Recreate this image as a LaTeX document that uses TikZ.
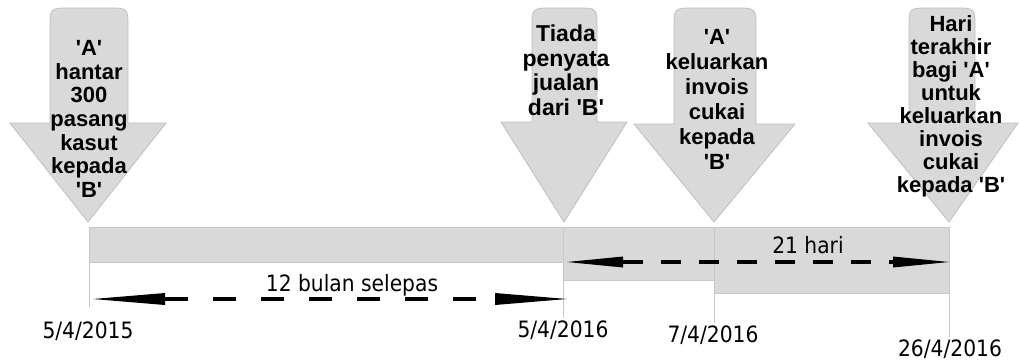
\documentclass[tikz,border=0pt]{standalone}
\usepackage{fontspec}
\usetikzlibrary{arrows.meta}
\newfontfamily\labfont{Liberation Sans}
\newfontfamily\tahfont{DejaVu Sans}[FakeStretch=0.9]
\definecolor{shapefill}{HTML}{D9D9D9}
\definecolor{shapeline}{HTML}{BFBFBF}
\definecolor{barline}{HTML}{C8C8C8}
\tikzset{
  bigarrow/.style={fill=shapefill, draw=shapeline, line width=0.8pt, line join=miter},
  lab/.style={align=center, inner sep=0pt, anchor=north, font=\labfont\bfseries\fontsize{22}{24}\selectfont},
  datelab/.style={inner sep=0pt, anchor=base, font=\tahfont\fontsize{22.5}{27}\selectfont},
  bar/.style={fill=shapefill, draw=barline, line width=1pt},
  tick/.style={draw=barline, line width=1pt},
  dimline/.style={line width=3.5pt, dash pattern=on 23pt off 25pt, {Triangle[length=72pt,width=12pt,line width=0pt 0]}-{Triangle[length=72pt,width=12pt,line width=0pt 0]}},
  dimlineb/.style={line width=3.5pt, dash pattern=on 20pt off 18pt, {Triangle[length=56pt,width=11pt,line width=0pt 0]}-{Triangle[length=56pt,width=11pt,line width=0pt 0]}}
}
\newcommand{\downarrowshape}[6]{% xl xr hl hr tipx neck
  \draw[bigarrow] (#1,#6) -- (#1,28) .. controls (#1,8) .. (#1+20,8) -- (#2-20,8) .. controls (#2,8) .. (#2,28) -- (#2,#6) -- (#4,#6) -- (#5,222) -- (#3,#6) -- cycle;}
\begin{document}
\begin{tikzpicture}[x=1pt,y=-1pt]
\useasboundingbox (0,0) rectangle (1019,360);
% big down arrows
\downarrowshape{50}{128}{10}{166}{88}{123}
\downarrowshape{532}{597}{501}{627}{564}{122}
\downarrowshape{674}{756}{634}{795}{714}{124}
\downarrowshape{909}{975}{868}{1018}{949}{123}
% bars
\draw[bar] (89,227) rectangle (563,262);
\draw[bar] (563,227) rectangle (714,280);
\draw[bar] (714,227) rectangle (949,293);
% ticks
\coordinate (t1a) at (89,262); \coordinate (t1b) at (89,307);
\coordinate (t2a) at (563,280); \coordinate (t2b) at (563,318);
\coordinate (t3a) at (714,280); \coordinate (t3b) at (714,323);
\coordinate (t4a) at (949,293); \coordinate (t4b) at (949,337);
\draw[tick] (t1a) -- (t1b);
\draw[tick] (t2a) -- (t2b);
\draw[tick] (t3a) -- (t3b);
\draw[tick] (t4a) -- (t4b);
% labels in arrows
\node[lab, font=\labfont\bfseries\fontsize{22}{23.7}\selectfont] (l1) at (89,40) {'A'\\hantar\\300\\pasang\\kasut\\kepada\\'B'};
\node[lab, font=\labfont\bfseries\fontsize{23}{24.5}\selectfont] (l2) at (566,25) {Tiada\\penyata\\jualan\\dari 'B'};
\node[lab, font=\labfont\bfseries\fontsize{22}{25}\selectfont] (l3) at (717,29) {'A'\\keluarkan\\invois\\cukai\\kepada\\'B'};
\node[lab, font=\labfont\bfseries\fontsize{22}{23}\selectfont] (l4) at (951,15) {Hari\\terakhir\\bagi 'A'\\untuk\\keluarkan\\invois\\cukai\\kepada 'B'};
% dimension arrows
\coordinate (d1s) at (93,299); \coordinate (d1e) at (567,299);
\coordinate (d2s) at (567,262); \coordinate (d2e) at (949,262);
\draw[dimline] (d1s) -- (d1e);
\draw[dimlineb] (d2s) -- (d2e);
\node[datelab] (m1) at (352,291) {12 bulan selepas};
\node[datelab] (m2) at (808,253) {21 hari};
% dates
\node[datelab] (dt1) at (88,338) {5/4/2015};
\node[datelab] (dt2) at (563,337) {5/4/2016};
\node[datelab] (dt3) at (713,342) {7/4/2016};
\node[datelab] (dt4) at (950,356) {26/4/2016};
\end{tikzpicture}
\end{document}
